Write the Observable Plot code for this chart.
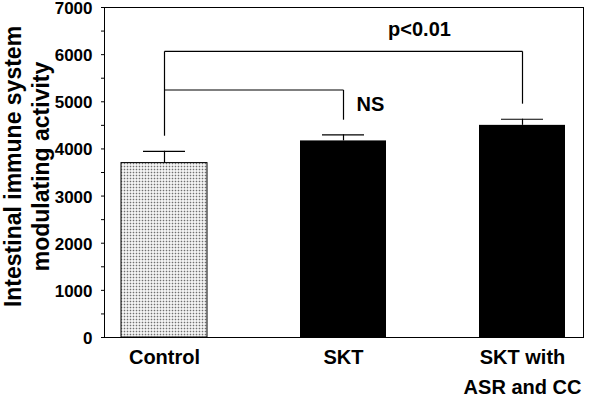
<!DOCTYPE html>
<html><head><meta charset="utf-8">
<script src="https://cdn.jsdelivr.net/npm/d3@7"></script>
<script src="https://cdn.jsdelivr.net/npm/@observablehq/plot@0.6"></script>
<style>body{margin:0;background:#fff} svg{display:block}</style>
</head><body><div id="chart"></div>
<script>
// categories and values
const groups = ["Control", "SKT", "SKT with\nASR and CC"];
const means = [3700, 4170, 4500];
const errors = [250, 130, 130];
const patterned = [true, false, false];
const yTicks = [0, 1000, 2000, 3000, 4000, 5000, 6000, 7000];
const minorTicks = [500, 1500, 2500, 3500, 4500, 5500, 6500];
// significance brackets
const bracketFrom = ["Control", "Control"];
const bracketTo = ["SKT", "SKT with\nASR and CC"];
const bracketLevel = [5250, 6070];
const bracketDrop = [4620, 4960];
const bracketStart = 4280;
const bracketLabels = ["NS", "p<0.01"];
const bracketLabelY = [4815, 6385];
const yTitle = "Intestinal immune system\nmodulating activity";

const data = groups.map((g, i) => ({group: g, mean: means[i], err: errors[i], dots: patterned[i]}));
const segments = [{x1: bracketFrom[0], x2: bracketFrom[0], y1: bracketStart, y2: d3.max(bracketLevel)}];
bracketFrom.forEach((f, i) => {
  segments.push({x1: f, x2: bracketTo[i], y1: bracketLevel[i], y2: bracketLevel[i]});
  segments.push({x1: bracketTo[i], x2: bracketTo[i], y1: bracketLevel[i], y2: bracketDrop[i]});
});
const notes = bracketLabels.map((t, i) => ({group: "SKT", y: bracketLabelY[i], text: t}));

const chart = Plot.plot({
  width: 600, height: 402,
  marginLeft: 104, marginRight: 17, marginTop: 7, marginBottom: 65,
  style: {fontFamily: "'Liberation Sans', Arial, sans-serif", fontWeight: "bold", background: "white", color: "black"},
  x: {domain: groups, paddingInner: 0.517, paddingOuter: 0.095, axis: null, label: null},
  y: {domain: [0, 7000], axis: null, label: null},
  marks: [
    Plot.barY(data.filter(d => d.dots), {x: "group", y: "mean", fill: "url(#dots)", stroke: "black", strokeWidth: 1}),
    Plot.barY(data.filter(d => !d.dots), {x: "group", y: "mean", fill: "black"}),
    Plot.ruleX(data, {x: "group", y1: "mean", y2: d => d.mean + d.err, stroke: "black", strokeWidth: 1.2}),
    Plot.tickY(data, {x: "group", y: d => d.mean + d.err, insetLeft: 22, insetRight: 22, stroke: "black", strokeWidth: 1.2}),
    Plot.link(segments, {x1: "x1", x2: "x2", y1: "y1", y2: "y2", stroke: "black", strokeWidth: 1.2}),
    Plot.text([notes[0]], {x: "group", y: "y", text: "text", dx: 27, fontSize: 20, fontWeight: "bold", lineAnchor: "bottom"}),
    Plot.text([notes[1]], {x: "group", y: "y", text: "text", dx: 76, fontSize: 20, fontWeight: "bold", lineAnchor: "bottom"}),
    Plot.axisY(minorTicks, {tickSize: 3, tickFormat: () => "", label: null}),
    Plot.axisY(yTicks, {tickSize: 3, tickFormat: () => "", label: null}),
    Plot.text(yTicks, {frameAnchor: "left", y: d => d, text: d => String(d), textAnchor: "end", dx: -12, dy: 1, fontSize: 17, fontWeight: "bold"}),
    Plot.axisX({tickSize: 0, tickPadding: 5, fontSize: 20, lineHeight: 1.5, label: null}),
    Plot.text([yTitle], {frameAnchor: "left", text: d => d, rotate: -90, dx: -103, dy: -6, fontSize: 23, fontWeight: "bold", lineAnchor: "top", lineHeight: 1.2, textAnchor: "middle"}),
    Plot.frame({stroke: "black", strokeWidth: 1})
  ]
});

const defs = d3.select(chart).insert("defs", ":first-child");
const pat = defs.append("pattern").attr("id", "dots").attr("patternUnits", "userSpaceOnUse").attr("width", 3).attr("height", 3);
pat.append("rect").attr("width", 3).attr("height", 3).attr("fill", "white");
pat.append("rect").attr("x", 0.7).attr("y", 0.7).attr("width", 1.6).attr("height", 1.6).attr("fill", "#707070");

document.getElementById("chart").appendChild(chart);
</script>
</body></html>
